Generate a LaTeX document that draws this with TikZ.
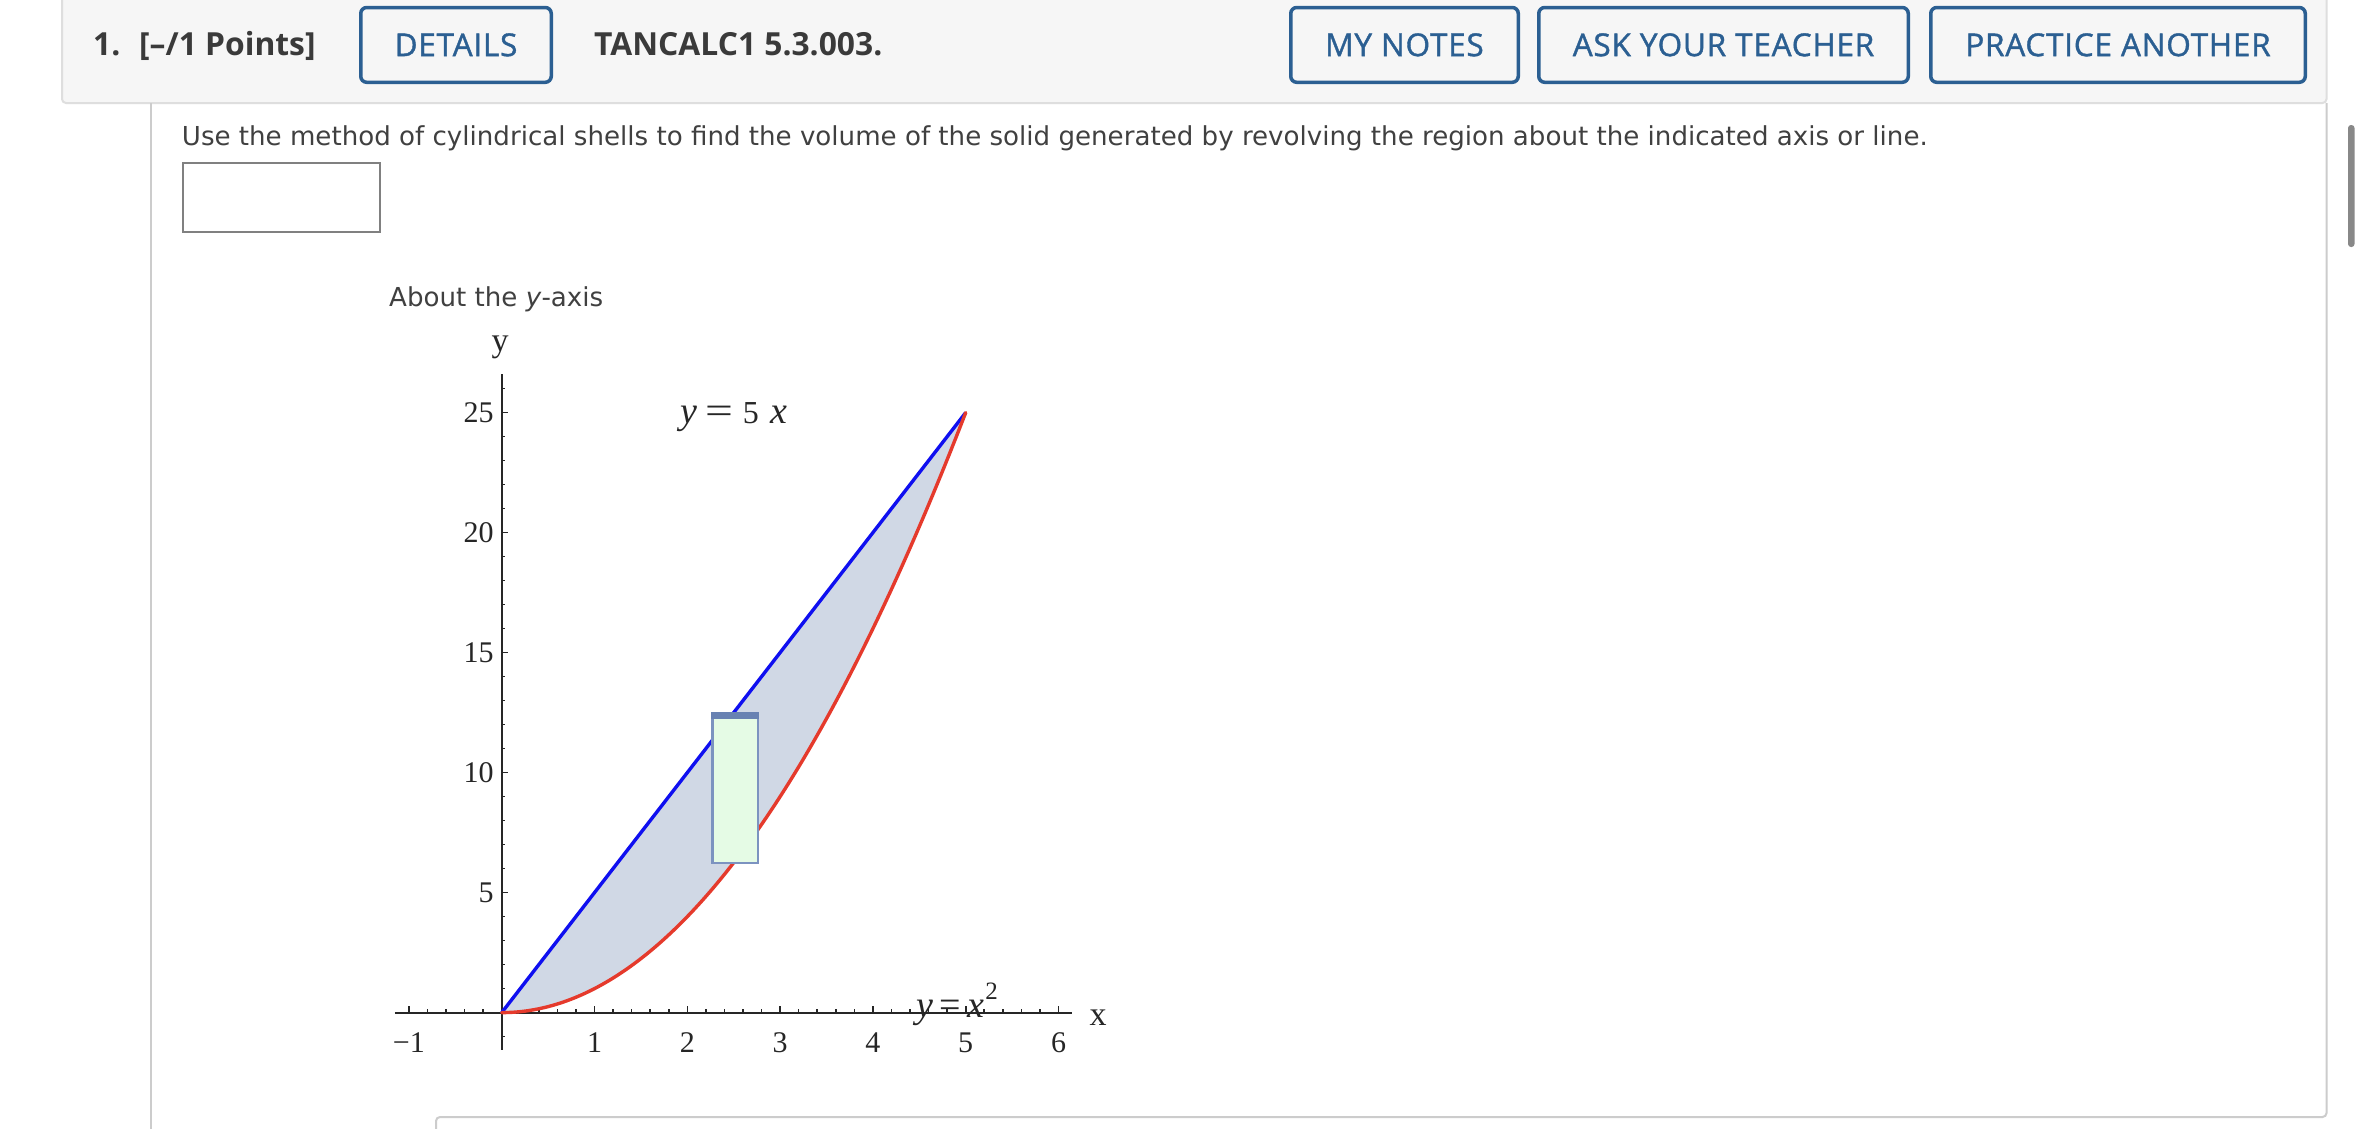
\documentclass[tikz,border=0pt]{standalone}
\usepackage{fontspec}
\usepackage{graphicx}
\setmainfont{Open Sans}
\newfontfamily\semifont{Open Sans}[FakeBold=1.2, LetterSpace=2.5]
\newfontfamily\bodyfont{DejaVu Sans}
\newfontfamily\pfont{Liberation Serif}
\definecolor{btnblue}{HTML}{2B5F92}
\definecolor{hdrbg}{HTML}{F6F6F6}
\definecolor{hdrline}{HTML}{DEDEDE}
\definecolor{frameline}{HTML}{CCCCCC}
\definecolor{txtdark}{HTML}{3A3A3A}
\definecolor{txtbody}{HTML}{404040}
\definecolor{ansline}{HTML}{808080}
\definecolor{scrollc}{HTML}{888888}
\definecolor{curveblue}{HTML}{0F0FF0}
\definecolor{curvered}{HTML}{E53A2C}
\definecolor{regionc}{HTML}{D0D8E5}
\definecolor{shellfill}{HTML}{E5FBE5}
\definecolor{shellline}{HTML}{7C93C0}
\definecolor{shelltop}{HTML}{6882B2}
\definecolor{axisc}{HTML}{262626}
\begin{document}
\begin{tikzpicture}[x=1pt,y=-1pt,
  btn/.style={draw=btnblue, line width=3.5pt, rounded corners=6pt, text=btnblue,
    font=\semifont\fontsize{31.5}{36}\selectfont, inner sep=0pt, text height=22.4pt,
    text depth=0pt, minimum height=74.8pt},
  hdrtxt/.style={anchor=base west, inner sep=0pt, text=txtdark, font=\bfseries\fontsize{31.8}{36}\selectfont},
  bodytxt/.style={anchor=base west, inner sep=0pt, text=txtbody, font=\bodyfont\fontsize{26.1}{31}\selectfont},
  ticklab/.style={inner sep=0pt, text=axisc, font=\pfont\fontsize{30}{36}\selectfont},
  axlab/.style={inner sep=0pt, text=axisc, font=\pfont\fontsize{34}{40}\selectfont},
  eqlab/.style={inner sep=0pt, anchor=base west, text=axisc, font=\pfont\fontsize{38}{44}\selectfont},
  axisline/.style={axisc, line width=2pt},
  tickline/.style={axisc, line width=1.6pt},
  frame/.style={frameline, line width=2pt}
]
\useasboundingbox (0,0) rectangle (2360,1128);
\fill[white] (0,0) rectangle (2360,1128);

% header panel
\draw[fill=hdrbg, draw=hdrline, line width=2pt, rounded corners=4pt] (62,-10) rectangle (2326.5,103);
% content frame
\draw[frame] (151,103) -- (151,1135);
\draw[frame, rounded corners=4pt] (2326.5,103) -- (2326.5,1117) -- (436,1117) -- (436,1135);
% scrollbar
\fill[scrollc, rounded corners=3pt] (2348,125) rectangle (2354.5,247);

% header texts
\node[hdrtxt] (num) at (93,55.5) {1.};
\node[hdrtxt] (pts) at (139,55.5) {[–/1 Points]};
\node[btn, minimum width=190.5pt] (details) at (456,44.9) {DETAILS};
\node[hdrtxt] (code) at (594,55.5) {TANCALC1 5.3.003.};
\node[btn, minimum width=227.5pt] (notes) at (1404.5,44.9) {MY NOTES};
\node[btn, minimum width=369.5pt] (ask) at (1723.5,44.9) {ASK YOUR TEACHER};
\node[btn, minimum width=374.5pt] (practice) at (2118,44.9) {PRACTICE ANOTHER};

% body
\node[bodytxt] (instr) at (181.7,145.7) {Use the method of cylindrical shells to find the volume of the solid generated by revolving the region about the indicated axis or line.};
\draw[ansline, line width=2pt] (182.5,162.5) rectangle (379.5,231.5);
\node[bodytxt] (about) at (389,306.7) {About the \textit{y}-axis};

% plot
\begin{scope}[shift={(501.7,1012.6)}, x=92.8pt, y=24pt]
  \coordinate (O) at (0,0);
  \coordinate (P) at (5,25);
  \coordinate (xl) at (-1.15,0);
  \coordinate (xr) at (6.15,0);
  \coordinate (yb) at (0,-1.55);
  \coordinate (yt) at (0,26.6);
  \draw[axisline] (xl) -- (xr);
  \draw[axisline] (yb) -- (yt);
  \foreach \i in {-1,1,2,3,4,5,6} \draw[tickline] (\i,0) -- ++(0pt,6.7pt);
  \foreach \k in {-5,...,30}{
    \pgfmathtruncatemacro\r{mod(\k+5,5)}
    \ifnum\r=0 \else \draw[tickline] (\k/5,0) -- ++(0pt,3.5pt); \fi}
  \foreach \j in {-1,...,26}{
    \pgfmathtruncatemacro\r{mod(\j+5,5)}
    \ifnum\r=0 \else \draw[tickline] (0,\j) -- ++(3.5pt,0pt); \fi}
  \foreach \j in {5,10,...,25}{
    \draw[tickline] (0,\j) -- ++(6.7pt,0pt);
    \node[ticklab, anchor=base east, xshift=-8pt, yshift=-10.2pt] (yt\j) at (0,\j) {\j};}
  \foreach \i/\t/\n in {-1/−1/m1,1/1/p1,2/2/p2,3/3/p3,4/4/p4,5/5/p5,6/6/p6}
    \node[ticklab, anchor=base, yshift=-39.5pt] (xt\n) at (\i,0) {\t};
  % region
  \fill[regionc] (O) -- (P) -- plot[domain=5:0,samples=61] (\x,{\x*\x}) -- cycle;
  \draw[curveblue, line width=3.4pt] (O) -- (P);
  \draw[curvered, line width=3.4pt, line cap=round] plot[domain=0:5,samples=81,smooth] (\x,{\x*\x});
  % shell
  \draw[shellline, line width=2.5pt, fill=shellfill] (2.27,6.24) rectangle (2.76,12.49);
  \fill[shelltop] (2.258,12.22) rectangle (2.772,12.54);
\end{scope}

% axis labels
\node[axlab, anchor=base] (ylabel) at (500,351) {y};
\node[axlab, anchor=base] (xlabel) at (1098,1025) {x};
\node[eqlab] (eq1) at (680,423) {\textit{y}\hspace{8pt}\scalebox{1.3}[1]{=}\hspace{10pt}{\fontsize{32}{36}\selectfont 5}\hspace{12pt}\textit{x}};
\node[eqlab] (eq2) at (916,1017) {\textit{y}\hspace{6pt}={}\hspace{7pt}\textit{x}\hspace{1pt}\raisebox{18pt}{\fontsize{25}{28}\selectfont 2}};
\end{tikzpicture}
\end{document}
